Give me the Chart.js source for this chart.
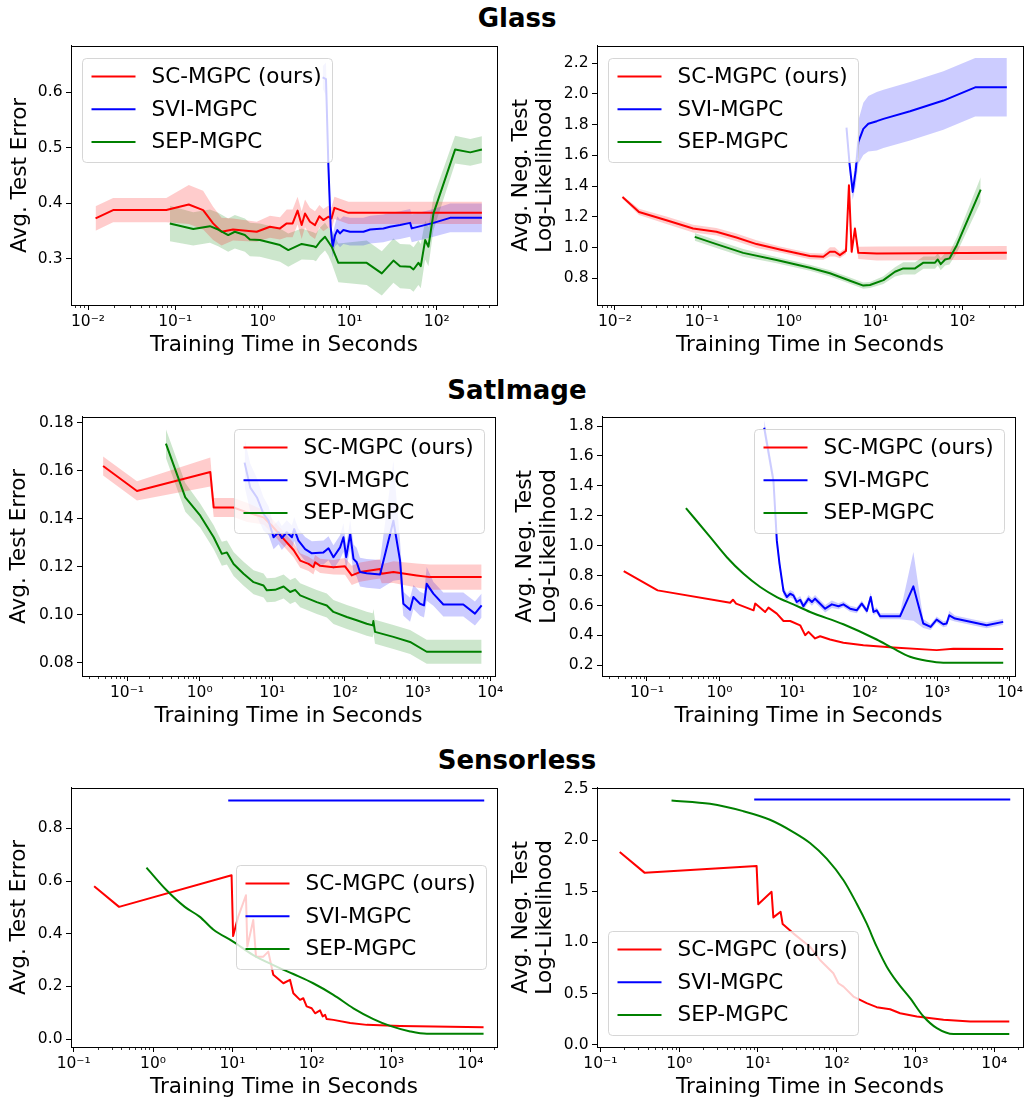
<!DOCTYPE html>
<html>
<head>
<meta charset="utf-8">
<script src="https://cdn.jsdelivr.net/npm/chart.js@4.4.0/dist/chart.umd.min.js"></script>
<style>
  body { margin: 0; background: #fff; overflow: hidden; }
  #page { position: relative; width: 1026px; height: 1101px; }
  #page canvas { position: absolute; }
  .title { position: absolute; left: 417px; width: 200px; text-align: center;
           font: bold 26px "DejaVu Sans", sans-serif; line-height: 30px; color: #000; }
</style>
</head>
<body>
<div id="page">
  <div class="title" style="top:3px">Glass</div>
  <div class="title" style="top:375px">SatImage</div>
  <div class="title" style="top:745px">Sensorless</div>
</div>
<script>
const seriesLabels = ["SC-MGPC (ours)", "SVI-MGPC", "SEP-MGPC"];
const lineColors = ["#ff0000", "#0000ff", "#008000"];
const bandColors = ["rgba(255,0,0,0.2)", "rgba(0,0,255,0.2)", "rgba(0,128,0,0.2)"];

//Tick values
const ticksX2 = [0.01, 0.1, 1, 10, 100];
const ticksX4 = [0.1, 1, 10, 100, 1000, 10000];
const glassErrTicksY = [0.3, 0.4, 0.5, 0.6];
const glassNllTicksY = [0.8, 1.0, 1.2, 1.4, 1.6, 1.8, 2.0, 2.2];
const satErrTicksY = [0.08, 0.10, 0.12, 0.14, 0.16, 0.18];
const satNllTicksY = [0.2, 0.4, 0.6, 0.8, 1.0, 1.2, 1.4, 1.6, 1.8];
const senErrTicksY = [0.0, 0.2, 0.4, 0.6, 0.8];
const senNllTicksY = [0.0, 0.5, 1.0, 1.5, 2.0, 2.5];

//Glass - test error
const glassErrScX = [0.0122, 0.0194, 0.079, 0.143, 0.209, 0.272, 0.34, 0.46, 0.86, 1.22, 1.59, 1.9, 2.22, 2.53, 2.82, 3.08, 3.51, 4.01, 4.5, 5.0, 5.7, 6.2, 6.7, 9.7, 329];
const glassErrScY = [0.373, 0.388, 0.388, 0.398, 0.388, 0.364, 0.349, 0.353, 0.349, 0.358, 0.355, 0.364, 0.364, 0.387, 0.361, 0.382, 0.367, 0.361, 0.377, 0.370, 0.376, 0.373, 0.392, 0.383, 0.383];
const glassErrScSd = [0.022, 0.022, 0.022, 0.035, 0.035, 0.03, 0.025, 0.02, 0.018, 0.02, 0.02, 0.025, 0.025, 0.025, 0.025, 0.025, 0.025, 0.025, 0.02, 0.02, 0.02, 0.02, 0.02, 0.02, 0.02];
const glassErrSviX = [4.9, 5.36, 5.7, 6.06, 6.39, 6.81, 7.23, 7.76, 8.48, 10.1, 14.4, 17.2, 24.4, 29.1, 37.9, 49.4, 51.6, 91.6, 142, 329];
const glassErrSviY = [0.627, 0.624, 0.471, 0.358, 0.322, 0.343, 0.352, 0.346, 0.352, 0.349, 0.349, 0.353, 0.355, 0.358, 0.361, 0.365, 0.355, 0.365, 0.374, 0.374];
const glassErrSviSd = [0.02, 0.03, 0.03, 0.025, 0.02, 0.02, 0.025, 0.025, 0.025, 0.025, 0.025, 0.025, 0.025, 0.025, 0.025, 0.025, 0.025, 0.025, 0.026, 0.026];
const glassErrSepX = [0.0867, 0.161, 0.25, 0.311, 0.405, 0.483, 0.629, 0.718, 0.935, 1.59, 1.98, 2.82, 3.84, 4.11, 4.57, 5.22, 5.70, 6.22, 7.43, 15.7, 23.4, 31.8, 37.9, 49.4, 54, 61.5, 65.5, 73.5, 80.2, 91.6, 162, 242, 329];
const glassErrSepY = [0.364, 0.354, 0.359, 0.353, 0.343, 0.349, 0.343, 0.335, 0.334, 0.325, 0.316, 0.327, 0.323, 0.321, 0.331, 0.340, 0.331, 0.322, 0.293, 0.293, 0.274, 0.297, 0.287, 0.286, 0.281, 0.293, 0.287, 0.334, 0.322, 0.382, 0.497, 0.492, 0.497];
const glassErrSepSd = [0.032, 0.03, 0.03, 0.03, 0.03, 0.03, 0.03, 0.03, 0.03, 0.03, 0.03, 0.028, 0.025, 0.025, 0.025, 0.025, 0.025, 0.03, 0.035, 0.04, 0.04, 0.04, 0.04, 0.04, 0.04, 0.04, 0.04, 0.035, 0.035, 0.03, 0.025, 0.024, 0.024];

//Glass - negative test log-likelihood
const glassNllScX = [0.0122, 0.0189, 0.0391, 0.0793, 0.147, 0.25, 0.426, 0.79, 1.75, 2.5, 2.98, 3.4, 3.88, 4.56, 4.93, 5.3, 5.78, 6.32, 10.3, 324];
const glassNllScY = [1.329, 1.232, 1.178, 1.124, 1.103, 1.066, 1.023, 0.988, 0.945, 0.941, 0.973, 0.973, 0.951, 0.979, 1.405, 0.973, 1.124, 0.966, 0.962, 0.966];
const glassNllScSd = [0.01, 0.02, 0.025, 0.025, 0.025, 0.025, 0.025, 0.02, 0.02, 0.02, 0.03, 0.03, 0.02, 0.02, 0.02, 0.02, 0.02, 0.04, 0.045, 0.045];
const glassNllSviX = [4.62, 5.0, 5.45, 5.9, 6.32, 7.22, 8.24, 10.3, 12.3, 24.9, 60.3, 140, 324];
const glassNllSviY = [1.78, 1.55, 1.362, 1.5, 1.686, 1.772, 1.805, 1.822, 1.837, 1.887, 1.956, 2.042, 2.042];
const glassNllSviSd = [0.01, 0.03, 0.05, 0.1, 0.14, 0.17, 0.18, 0.19, 0.19, 0.19, 0.19, 0.19, 0.19];
const glassNllSepX = [0.0828, 0.147, 0.299, 0.724, 1.75, 2.98, 5.07, 7.22, 8.61, 12.3, 16.7, 20.8, 28.4, 35.5, 48.3, 51.9, 56.2, 63.1, 70.8, 86, 162];
const glassNllSepY = [1.070, 1.023, 0.966, 0.919, 0.869, 0.833, 0.785, 0.753, 0.757, 0.789, 0.843, 0.865, 0.865, 0.902, 0.902, 0.923, 0.893, 0.923, 0.930, 1.016, 1.377];
const glassNllSepSd = [0.025, 0.025, 0.025, 0.02, 0.02, 0.02, 0.02, 0.02, 0.02, 0.025, 0.03, 0.04, 0.04, 0.04, 0.04, 0.04, 0.04, 0.04, 0.04, 0.05, 0.08];

//SatImage - test error
const satErrScX = [0.0468, 0.137, 1.4, 1.56, 2.93, 4.47, 7.57, 9.86, 14.3, 19.6, 24.2, 31.5, 36.8, 38.8, 45.5, 69.3, 100, 124, 161, 246, 304, 320, 464, 970, 1480, 7600];
const satErrScY = [0.162, 0.1516, 0.1595, 0.1447, 0.1447, 0.1427, 0.1406, 0.1371, 0.1316, 0.127, 0.1226, 0.1212, 0.1198, 0.1219, 0.1204, 0.1198, 0.1202, 0.1164, 0.1178, 0.1187, 0.1191, 0.1171, 0.1178, 0.1164, 0.1157, 0.1157];
const satErrScSd = [0.004, 0.004, 0.006, 0.004, 0.004, 0.004, 0.003, 0.003, 0.003, 0.003, 0.003, 0.003, 0.003, 0.003, 0.003, 0.003, 0.0035, 0.004, 0.004, 0.004, 0.004, 0.004, 0.0045, 0.005, 0.0053, 0.0053];
const satErrSviX = [4.15, 4.97, 6.14, 7.57, 8.87, 10.4, 12.2, 13.5, 15.8, 18.6, 20, 22.9, 28.3, 35, 50.6, 59.3, 69.4, 85.7, 95.3, 104, 118, 131, 145, 161, 199, 304, 464, 573, 636, 787, 874, 1079, 1224, 1333, 1646, 2259, 4254, 6152, 7601];
const satErrSviY = [0.1634, 0.153, 0.1489, 0.142, 0.1392, 0.1323, 0.1344, 0.132, 0.1344, 0.1323, 0.1357, 0.1309, 0.1274, 0.1256, 0.126, 0.1277, 0.124, 0.1281, 0.1323, 0.124, 0.1337, 0.1233, 0.1219, 0.1178, 0.1173, 0.1168, 0.1392, 0.1226, 0.1046, 0.1021, 0.1074, 0.1046, 0.1039, 0.1129, 0.1088, 0.1043, 0.1043, 0.1005, 0.1039];
const satErrSviSd = [0.01, 0.01, 0.008, 0.007, 0.006, 0.005, 0.005, 0.005, 0.005, 0.005, 0.005, 0.005, 0.005, 0.005, 0.005, 0.005, 0.005, 0.005, 0.006, 0.005, 0.006, 0.006, 0.006, 0.006, 0.006, 0.006, 0.025, 0.008, 0.005, 0.005, 0.005, 0.005, 0.005, 0.007, 0.005, 0.005, 0.005, 0.005, 0.005];
const satErrSepX = [0.343, 0.634, 1.02, 1.56, 2.02, 2.37, 2.93, 4.02, 5.52, 7.57, 8.41, 10.9, 14.3, 17.6, 20.6, 24.2, 40.9, 56.2, 69.4, 106, 145, 199, 241, 246, 259, 464, 787, 1333, 7601];
const satErrSepY = [0.1713, 0.1489, 0.1413, 0.1323, 0.1254, 0.126, 0.1212, 0.1171, 0.1136, 0.1122, 0.1102, 0.1104, 0.1118, 0.1095, 0.1104, 0.1081, 0.1053, 0.1039, 0.1012, 0.0991, 0.0977, 0.0963, 0.0956, 0.0974, 0.0929, 0.0908, 0.0887, 0.0846, 0.0846];
const satErrSepSd = [0.006, 0.006, 0.005, 0.005, 0.005, 0.005, 0.005, 0.005, 0.005, 0.005, 0.005, 0.005, 0.005, 0.005, 0.005, 0.005, 0.005, 0.005, 0.005, 0.005, 0.005, 0.005, 0.005, 0.005, 0.005, 0.005, 0.005, 0.005, 0.005];

//SatImage - negative test log-likelihood
const satNllScX = [0.0478, 0.14, 1.4, 1.53, 1.69, 2.94, 3.1, 4.25, 4.72, 6.15, 7.6, 9.39, 12.9, 15.1, 16.8, 20.7, 24.3, 33.3, 50.8, 95.9, 248, 980, 1660, 8090];
const satNllScY = [0.830, 0.7015, 0.619, 0.639, 0.613, 0.568, 0.613, 0.557, 0.586, 0.546, 0.497, 0.497, 0.468, 0.402, 0.424, 0.380, 0.395, 0.373, 0.351, 0.335, 0.320, 0.302, 0.311, 0.309];
const satNllSviX = [4.12, 5.53, 6.15, 6.7, 7.6, 8.45, 9.39, 10.4, 11.6, 12.9, 14.3, 16.8, 18.7, 20.7, 28.5, 35.2, 43.5, 50.8, 62.8, 77.6, 91, 107, 121, 132, 146, 163, 306, 468, 641, 809, 979, 1210, 1344, 1462, 1750, 4775, 8090];
const satNllSviY = [1.789, 1.434, 1.034, 0.879, 0.697, 0.657, 0.679, 0.668, 0.624, 0.639, 0.595, 0.646, 0.624, 0.646, 0.579, 0.608, 0.595, 0.608, 0.579, 0.568, 0.613, 0.564, 0.657, 0.557, 0.568, 0.528, 0.528, 0.728, 0.48, 0.457, 0.506, 0.475, 0.48, 0.535, 0.513, 0.468, 0.491];
const satNllSviSd = [0.05, 0.05, 0.05, 0.04, 0.03, 0.025, 0.025, 0.025, 0.025, 0.025, 0.025, 0.025, 0.025, 0.025, 0.025, 0.025, 0.02, 0.02, 0.02, 0.02, 0.02, 0.02, 0.03, 0.02, 0.02, 0.02, 0.02, 0.23, 0.03, 0.02, 0.02, 0.02, 0.02, 0.03, 0.02, 0.02, 0.02];
const satNllSepX = [0.344, 0.744, 1.26, 2.14, 3.63, 6.15, 10.4, 17.7, 50.8, 146, 248, 421, 713, 1210, 8090];
const satNllSepY = [1.252, 1.057, 0.923, 0.812, 0.724, 0.657, 0.608, 0.557, 0.475, 0.373, 0.313, 0.258, 0.231, 0.218, 0.218];

//Sensorless - test error
const senErrScX = [0.181, 0.373, 9.75, 10.2, 11.8, 14.8, 15.4, 18.3, 19.8, 24.5, 28.3, 32.7, 43.8, 53.1, 58.5, 71, 78.2, 86.1, 99.6, 110, 127, 137, 147, 154, 187, 304, 492, 1297, 3413, 14580];
const senErrScY = [0.580, 0.502, 0.622, 0.391, 0.464, 0.546, 0.351, 0.452, 0.313, 0.313, 0.332, 0.244, 0.212, 0.225, 0.174, 0.149, 0.155, 0.124, 0.117, 0.098, 0.109, 0.086, 0.092, 0.076, 0.073, 0.061, 0.054, 0.050, 0.048, 0.045];
const senErrSviX = [8.85, 14860];
const senErrSviY = [0.906, 0.906];
const senErrSepX = [0.826, 1.48, 2.51, 3.89, 5.73, 10.2, 18.3, 32.7, 58.5, 104, 187, 334, 597, 970, 1734, 2812, 14580];
const senErrSepY = [0.651, 0.565, 0.502, 0.464, 0.416, 0.370, 0.319, 0.281, 0.247, 0.212, 0.168, 0.117, 0.076, 0.050, 0.029, 0.020, 0.020];

//Sensorless - negative test log-likelihood
const senNllScX = [0.176, 0.366, 9.62, 10.1, 14.9, 15.7, 19.4, 20.6, 28.1, 45.8, 61.4, 90.7, 105, 122, 163, 240, 322, 476, 638, 1040, 2270, 4955, 15520];
const senNllScY = [1.883, 1.679, 1.747, 1.373, 1.494, 1.244, 1.299, 1.179, 1.088, 0.958, 0.828, 0.698, 0.601, 0.568, 0.471, 0.406, 0.367, 0.347, 0.308, 0.276, 0.244, 0.227, 0.227];
const senNllSviX = [8.97, 15960];
const senNllSviY = [2.396, 2.396];
const senNllSepX = [0.8, 2.46, 6.51, 14.2, 28.1, 45.8, 74.6, 122, 179, 240, 322, 432, 579, 855, 1264, 1866, 3041, 15520];
const senNllSepY = [2.386, 2.354, 2.282, 2.198, 2.078, 1.971, 1.818, 1.607, 1.380, 1.185, 0.958, 0.763, 0.617, 0.455, 0.276, 0.162, 0.104, 0.104];

const FONT = "'DejaVu Sans', sans-serif";
const XH = 53;

//Plot boxes (left, top, right, bottom) and y-title left edge for each panel.
const panels = [
  { box: [71, 45, 497, 305], ytl: 8, xMin: 0.00638, xMax: 490, yMin: 0.217, yMax: 0.684,
    xTicks: ticksX2, yTicks: glassErrTicksY, yDec: 1, yTitle: "Avg. Test Error", legend: "ul",
    series: [[glassErrScX, glassErrScY, glassErrScSd], [glassErrSviX, glassErrSviY, glassErrSviSd], [glassErrSepX, glassErrSepY, glassErrSepSd]] },
  { box: [597, 45, 1023, 305], ytl: 509, xMin: 0.00621, xMax: 497, yMin: 0.627, yMax: 2.312,
    xTicks: ticksX2, yTicks: glassNllTicksY, yDec: 1, yTitle: ["Avg. Neg. Test", "Log-Likelihood"], legend: "ul",
    series: [[glassNllScX, glassNllScY, glassNllScSd], [glassNllSviX, glassNllSviY, glassNllSviSd], [glassNllSepX, glassNllSepY, glassNllSepSd]] },
  { box: [82, 416, 495, 676], ytl: 7, xMin: 0.024, xMax: 11614, yMin: 0.0745, yMax: 0.1825,
    xTicks: ticksX4, yTicks: satErrTicksY, yDec: 2, yTitle: "Avg. Test Error", legend: "ur",
    series: [[satErrScX, satErrScY, satErrScSd], [satErrSviX, satErrSviY, satErrSviSd], [satErrSepX, satErrSepY, satErrSepSd]] },
  { box: [602, 416, 1015, 676], ytl: 513, xMin: 0.024, xMax: 11749, yMin: 0.129, yMax: 1.862,
    xTicks: ticksX4, yTicks: satNllTicksY, yDec: 1, yTitle: ["Avg. Neg. Test", "Log-Likelihood"], legend: "ur",
    smooth: [false, false, true],
    series: [[satNllScX, satNllScY], [satNllSviX, satNllSviY, satNllSviSd], [satNllSepX, satNllSepY]] },
  { box: [71, 787, 497, 1047], ytl: 7, xMin: 0.0925, xMax: 21528, yMin: -0.030, yMax: 0.954,
    xTicks: ticksX4, yTicks: senErrTicksY, yDec: 1, yTitle: "Avg. Test Error", legend: "cr",
    smooth: [false, false, true],
    series: [[senErrScX, senErrScY], [senErrSviX, senErrSviY], [senErrSepX, senErrSepY]] },
  { box: [597, 787, 1023, 1047], ytl: 509, xMin: 0.0906, xMax: 23174, yMin: -0.022, yMax: 2.51,
    xTicks: ticksX4, yTicks: senNllTicksY, yDec: 1, yTitle: ["Avg. Neg. Test", "Log-Likelihood"], legend: "ll",
    smooth: [false, false, true],
    series: [[senNllScX, senNllScY], [senNllSviX, senNllSviY], [senNllSepX, senNllSepY]] }
];

const SUP = { "-": "\u207B", "0": "\u2070", "1": "\u00B9", "2": "\u00B2", "3": "\u00B3", "4": "\u2074" };
function powLabel(v) {
  let e = String(Math.round(Math.log10(v)));
  return "10" + e.split("").map(c => SUP[c]).join("");
}

//Full box around the plot plus the small log ticks.
const framePlugin = {
  id: "frame",
  afterDatasetsDraw(chart) {
    const ctx = chart.ctx, a = chart.chartArea, s = chart.scales.x;
    ctx.save();
    ctx.strokeStyle = "#000";
    ctx.lineWidth = 1;
    ctx.strokeRect(Math.round(a.left) + 0.5, Math.round(a.top) + 0.5,
      Math.round(a.right) - Math.round(a.left), Math.round(a.bottom) - Math.round(a.top));
    ctx.beginPath();
    let lo = Math.floor(Math.log10(s.min)), hi = Math.ceil(Math.log10(s.max));
    for (let n = lo; n <= hi; n++) {
      for (let k = 2; k <= 9; k++) {
        let v = k * Math.pow(10, n);
        if (v < s.min || v > s.max) continue;
        let px = Math.round(s.getPixelForValue(v)) + 0.5;
        ctx.moveTo(px, Math.round(a.bottom));
        ctx.lineTo(px, Math.round(a.bottom) + 3);
      }
    }
    ctx.lineWidth = 0.8;
    ctx.stroke();
    ctx.restore();
  }
};

//Legend drawn inside the plot area, like matplotlib.
const insideLegend = {
  id: "insideLegend",
  afterDraw(chart, args, opts) {
    const ctx = chart.ctx, a = chart.chartArea;
    const w = 250, h = 104, m = 11;
    let x = opts.corner[1] === "r" ? a.right - m - w : a.left + m;
    let y;
    if (opts.corner[0] === "u") y = a.top + 12;
    else if (opts.corner[0] === "c") y = (a.top + a.bottom) / 2 - h / 2;
    else y = a.bottom - 12 - h;
    x = Math.round(x) + 0.5;
    y = Math.round(y) + 0.5;

    ctx.save();
    ctx.beginPath();
    ctx.roundRect(x, y, w, h, 4);
    ctx.fillStyle = "rgba(255,255,255,0.8)";
    ctx.fill();
    ctx.strokeStyle = "rgba(204,204,204,0.8)";
    ctx.lineWidth = 1;
    ctx.stroke();

    let items = chart.data.datasets.filter(d => d.inLegend);
    ctx.font = "21.5px " + FONT;
    ctx.textBaseline = "middle";
    ctx.fillStyle = "#000";
    items.forEach((d, i) => {
      let ly = y + 18 + i * 32.7;
      ctx.beginPath();
      ctx.moveTo(x + 9, ly);
      ctx.lineTo(x + 53, ly);
      ctx.strokeStyle = d.borderColor;
      ctx.lineWidth = 2;
      ctx.stroke();
      ctx.fillText(d.label, x + 69, ly + 1);
    });
    ctx.restore();
  }
};

function buildDatasets(p) {
  let bands = [], lines = [];
  p.series.forEach((s, i) => {
    let xs = s[0], ys = s[1], sd = s[2];
    if (sd) {
      bands.push({ data: xs.map((x, j) => ({ x: x, y: ys[j] + sd[j] })), fill: "+1",
        backgroundColor: bandColors[i], borderColor: "rgba(0,0,0,0)", borderWidth: 0, order: 10 });
      bands.push({ data: xs.map((x, j) => ({ x: x, y: ys[j] - sd[j] })), fill: false,
        borderColor: "rgba(0,0,0,0)", borderWidth: 0, order: 10 });
    }
    lines.push({
      label: seriesLabels[i],
      inLegend: true,
      data: xs.map((x, j) => ({ x: x, y: ys[j] })),
      borderColor: lineColors[i],
      borderWidth: 2,
      fill: false,
      order: 2 - i,
      cubicInterpolationMode: p.smooth && p.smooth[i] ? "monotone" : "default"
    });
  });
  return bands.concat(lines);
}

const page = document.getElementById("page");

panels.forEach(p => {
  let L = p.box[0], T = p.box[1], R = p.box[2], B = p.box[3];
  let cx = p.ytl, cy = T - 12;
  let cw = Math.min(R + 20, 1026) - cx;
  let ch = B + XH - cy;
  let yw = L - cx;

  let canvas = document.createElement("canvas");
  canvas.width = cw;
  canvas.height = ch;
  canvas.style.left = cx + "px";
  canvas.style.top = cy + "px";
  canvas.style.width = cw + "px";
  canvas.style.height = ch + "px";
  page.appendChild(canvas);

  let multi = Array.isArray(p.yTitle);

  new Chart(canvas.getContext("2d"), {
    type: "line",
    data: { datasets: buildDatasets(p) },
    options: {
      responsive: false,
      animation: false,
      devicePixelRatio: 1,
      layout: { padding: { left: 0, top: 12, right: cx + cw - R, bottom: 0 } },
      elements: { point: { radius: 0 }, line: { tension: 0, borderJoinStyle: "round" } },
      plugins: {
        legend: { display: false },
        tooltip: { enabled: false },
        insideLegend: { corner: p.legend }
      },
      scales: {
        x: {
          type: "logarithmic",
          bounds: "data",
          min: p.xMin,
          max: p.xMax,
          afterBuildTicks: s => { s.ticks = p.xTicks.map(v => ({ value: v })); },
          afterFit: s => { s.height = XH; },
          ticks: { callback: v => powLabel(v), autoSkip: false, maxRotation: 0,
                   padding: 3, color: "#000", font: { family: FONT, size: 15.5 } },
          grid: { drawOnChartArea: false, tickLength: 5, color: "#000", tickWidth: 1 },
          border: { color: "#000", width: 1 },
          title: { display: true, text: "Training Time in Seconds", color: "#000", padding: 0,
                   font: { family: FONT, size: 21.5, lineHeight: 1.2 } }
        },
        y: {
          type: "linear",
          bounds: "data",
          min: p.yMin,
          max: p.yMax,
          afterBuildTicks: s => { s.ticks = p.yTicks.map(v => ({ value: v })); },
          afterFit: s => { s.width = yw; },
          ticks: { callback: v => v.toFixed(p.yDec), padding: 3.5, color: "#000",
                   font: { family: FONT, size: 15.5 } },
          grid: { drawOnChartArea: false, tickLength: 5, color: "#000", tickWidth: 1 },
          border: { color: "#000", width: 1 },
          title: { display: true, text: p.yTitle, color: "#000", padding: 0,
                   font: { family: FONT, size: 21.5, lineHeight: multi ? 1.12 : 1.2 } }
        }
      }
    },
    plugins: [framePlugin, insideLegend]
  });
});
</script>
</body>
</html>
